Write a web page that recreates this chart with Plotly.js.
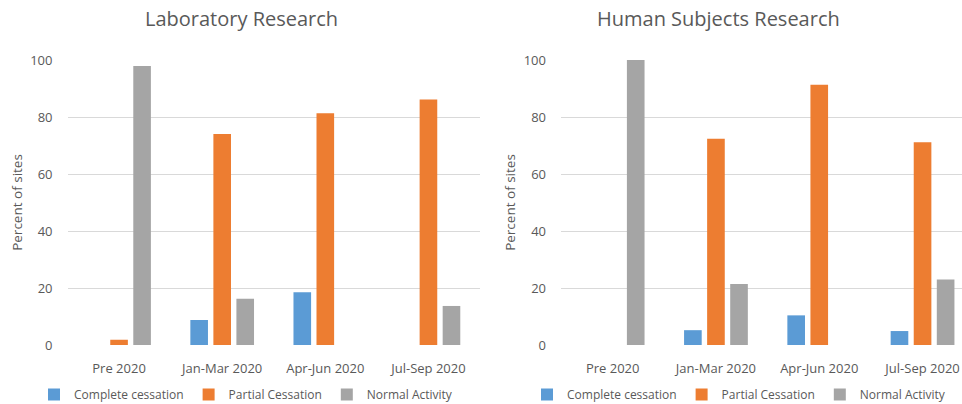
<!DOCTYPE html>
<html>
<head>
<meta charset="utf-8">
<script src="https://cdn.plot.ly/plotly-3.0.1.min.js"></script>
<style>html,body{margin:0;padding:0;background:#fff;}#chart{width:962px;height:404px;}</style>
</head>
<body>
<div id="chart"></div>
<script>
const categories = ["Pre 2020", "Jan-Mar 2020", "Apr-Jun 2020", "Jul-Sep 2020"];
const seriesNames = ["Complete cessation", "Partial Cessation", "Normal Activity"];
const labComplete = [0, 8.8, 18.5, 0];
const labPartial = [1.8, 74.0, 81.3, 86.1];
const labNormal = [97.9, 16.2, 0, 13.7];
const humComplete = [0, 5.2, 10.4, 4.9];
const humPartial = [0, 72.4, 91.3, 71.1];
const humNormal = [100, 21.4, 0, 23.0];
const yTicks = [0, 20, 40, 60, 80, 100];
const panelTitles = ["Laboratory Research", "Human Subjects Research"];
const yTitle = "Percent of sites";

const colors = ["#5B9BD5", "#ED7D31", "#A5A5A5"];
const W = 962, H = 404;
const font = "Open Sans, sans-serif";
const txt = "#595959";

function mk(y, i, xa, ya, leg) {
  return {type: "bar", x: categories, y: y, name: seriesNames[i], xaxis: xa, yaxis: ya,
    legend: leg, marker: {color: colors[i]}, hoverinfo: "skip"};
}
const data = [
  mk(labComplete, 0, "x", "y", "legend"),
  mk(labPartial, 1, "x", "y", "legend"),
  mk(labNormal, 2, "x", "y", "legend"),
  mk(humComplete, 0, "x2", "y2", "legend2"),
  mk(humPartial, 1, "x2", "y2", "legend2"),
  mk(humNormal, 2, "x2", "y2", "legend2")
];

const yDom = [(H - 345) / H, (H - 60) / H];
function xax(dom, range) {
  return {domain: dom, range: range, showgrid: false, zeroline: false, showline: false,
    ticks: "", tickfont: {family: font, size: 13, color: txt}, ticklabelstandoff: 14, fixedrange: true};
}
function yax(anchor) {
  return {domain: yDom, anchor: anchor, range: [0, 100], tickvals: yTicks, showgrid: true,
    gridcolor: "#D9D9D9", gridwidth: 1, zeroline: false, showline: false, ticks: "",
    tickfont: {family: font, size: 13, color: txt}, ticklabelstandoff: 14,
    title: {text: yTitle, font: {family: font, size: 13.5, color: txt}, standoff: 4}, fixedrange: true};
}
const rightCatW = 103.3;
const layout = {
  width: W, height: H, margin: {l: 0, r: 0, t: 0, b: 0, autoexpand: false},
  paper_bgcolor: "#fff", plot_bgcolor: "#fff",
  barmode: "group", bargap: 0.33, bargroupgap: 0.235,
  font: {family: font, color: txt},
  xaxis: xax([67.5 / W, 480 / W], [-0.5, 3.5]),
  yaxis: yax("x"),
  xaxis2: xax([561 / W, 1], [-0.5, -0.5 + (W - 561) / rightCatW]),
  yaxis2: yax("x2"),
  showlegend: true,
  legend: {orientation: "h", x: 34 / W, xanchor: "left", y: -5 / H, yanchor: "bottom",
    font: {family: font, size: 12, color: txt}, bgcolor: "rgba(0,0,0,0)", itemclick: false},
  legend2: {orientation: "h", x: 527 / W, xanchor: "left", y: -5 / H, yanchor: "bottom",
    font: {family: font, size: 12, color: txt}, bgcolor: "rgba(0,0,0,0)", itemclick: false},
  annotations: [
    {text: panelTitles[0], xref: "paper", yref: "paper", x: 241 / W, y: (H - 18) / H,
      xanchor: "center", yanchor: "middle", showarrow: false, font: {family: font, size: 20, color: txt}},
    {text: panelTitles[1], xref: "paper", yref: "paper", x: 718 / W, y: (H - 18) / H,
      xanchor: "center", yanchor: "middle", showarrow: false, font: {family: font, size: 20, color: txt}}
  ]
};
Plotly.newPlot("chart", data, layout, {displayModeBar: false, staticPlot: true});
</script>
</body>
</html>
